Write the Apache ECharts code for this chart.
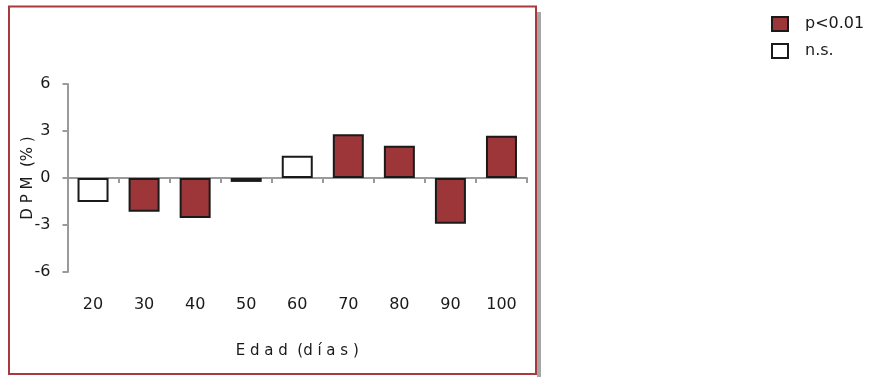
<!DOCTYPE html>
<html>
<head>
<meta charset="utf-8">
<script src="https://cdn.jsdelivr.net/npm/echarts@6/dist/echarts.min.js"></script>
<style>
html,body{margin:0;padding:0;background:#fff;}
#main{width:875px;height:377px;}
</style>
</head>
<body>
<div id="main"></div>
<script>
// Data
var categories = ['20', '30', '40', '50', '60', '70', '80', '90', '100'];
var significant = ['-', -2.15, -2.55, '-', '-', 2.8, 2.06, -2.92, 2.7];   // p<0.01
var notSignificant = [-1.53, '-', '-', -0.25, 1.42, '-', '-', '-', '-'];  // n.s.
var seriesNames = ['p<0.01', 'n.s.'];
var yTicks = { min: -6, max: 6, interval: 3 };
var xTitle = 'E d a d  (d í a s )';
var yTitle = 'D P M  (% )';

var FONT = 'DejaVu Sans';
var TXT = '#1a1a1a';
var RED = '#9c3639';
var FRAME = '#a8393d';

var chart = echarts.init(document.getElementById('main'), null, { renderer: 'canvas' });
chart.setOption({
  animation: false,
  backgroundColor: '#ffffff',
  grid: { left: 67.5, right: 348, top: 84, bottom: 105, containLabel: false },
  legend: {
    orient: 'vertical',
    left: 766,
    top: 11,
    itemWidth: 16,
    itemHeight: 14,
    itemGap: 11,
    icon: 'rect',
    data: seriesNames,
    textStyle: { color: TXT, fontFamily: FONT, fontSize: 16, padding: [0, 0, 0, 12] },
    itemStyle: { borderColor: '#1a1a1a', borderWidth: 2 }
  },
  xAxis: [
    {
      type: 'category',
      data: categories,
      position: 'bottom',
      axisLine: { onZero: true, lineStyle: { color: '#9a9a9a', width: 2 } },
      axisTick: { show: true, length: 5, inside: false, lineStyle: { color: '#9a9a9a', width: 2 } },
      axisLabel: { show: false },
      splitLine: { show: false }
    },
    {
      type: 'category',
      data: categories,
      position: 'bottom',
      axisLine: { show: false, onZero: false },
      axisTick: { show: false },
      axisLabel: { show: true, margin: 25, color: TXT, fontFamily: FONT, fontSize: 16 },
      name: xTitle,
      nameLocation: 'middle',
      nameGap: 72,
      nameMoveOverlap: false,
      nameTextStyle: { color: TXT, fontFamily: FONT, fontSize: 15 },
      splitLine: { show: false }
    }
  ],
  yAxis: {
    type: 'value',
    min: yTicks.min,
    max: yTicks.max,
    interval: yTicks.interval,
    axisLine: { show: true, lineStyle: { color: '#9a9a9a', width: 2 } },
    axisTick: { show: true, length: 5, lineStyle: { color: '#9a9a9a', width: 2 } },
    axisLabel: { margin: 17, color: TXT, fontFamily: FONT, fontSize: 16 },
    splitLine: { show: false },
    name: yTitle,
    nameLocation: 'middle',
    nameRotate: 90,
    nameGap: 32,
    nameMoveOverlap: false,
    nameTextStyle: { color: TXT, fontFamily: FONT, fontSize: 15 }
  },
  series: [
    {
      name: seriesNames[0],
      type: 'bar',
      stack: 'all',
      xAxisIndex: 0,
      data: significant,
      barWidth: 31,
      itemStyle: { color: RED, borderColor: '#1a1a1a', borderWidth: 2 }
    },
    {
      name: seriesNames[1],
      type: 'bar',
      stack: 'all',
      xAxisIndex: 0,
      data: notSignificant,
      barWidth: 31,
      itemStyle: { color: '#ffffff', borderColor: '#1a1a1a', borderWidth: 2 }
    }
  ],
  graphic: [
    { type: 'rect', z: -10, shape: { x: 537, y: 12, width: 4, height: 365 }, style: { fill: '#a6a6a6' } },
    { type: 'rect', z: -5, shape: { x: 9, y: 6.5, width: 527, height: 367.5 }, style: { fill: 'none', stroke: FRAME, lineWidth: 2 } }
  ]
});
</script>
</body>
</html>
